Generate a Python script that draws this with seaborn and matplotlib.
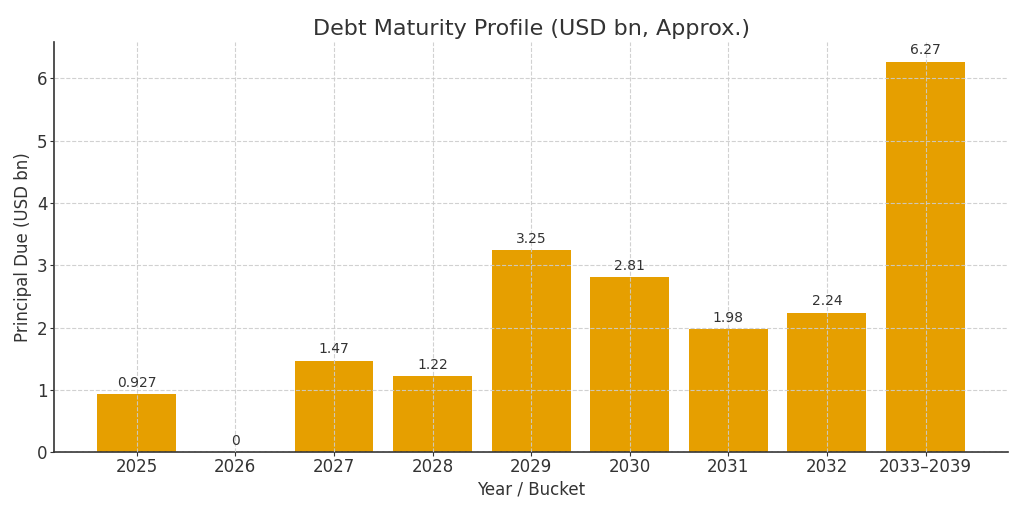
import matplotlib
matplotlib.use("Agg")
import matplotlib.pyplot as plt
import seaborn as sns
import pandas as pd

categories = ["2025", "2026", "2027", "2028", "2029", "2030", "2031", "2032", "2033–2039"]
values = [0.927, 0.0, 1.47, 1.22, 3.25, 2.81, 1.98, 2.24, 6.27]
labels = ["0.927", "0", "1.47", "1.22", "3.25", "2.81", "1.98", "2.24", "6.27"]

sns.set_style("white")
plt.rcParams['font.family'] = ['DejaVu Sans']
text_color = "#333333"

df = pd.DataFrame({"bucket": categories, "value": values})

fig = plt.figure(figsize=(10.24, 5.12), dpi=100)
ax = fig.add_axes([0.0527, 0.117, 0.932, 0.801])
sns.barplot(data=df, x="bucket", y="value", color="#E69F00", saturation=1,
            width=0.8, ax=ax, zorder=2, linewidth=0, edgecolor="#E69F00")

ax.set_axisbelow(False)
ax.grid(True, linestyle="--", color="#cccccc", linewidth=0.8, alpha=0.9, zorder=3)
for c in ax.containers:
    ax.bar_label(c, labels=labels, padding=3, fontsize=10, color=text_color)

ax.set_xlim(-0.84, 8.84)
ax.set_ylim(0, 6.585)
ax.set_title("Debt Maturity Profile (USD bn, Approx.)", fontsize=16, color=text_color, pad=5)
ax.set_xlabel("Year / Bucket", fontsize=12, color=text_color, labelpad=3)
ax.set_ylabel("Principal Due (USD bn)", fontsize=12, color=text_color, labelpad=4)
ax.tick_params(axis="both", labelsize=12, colors=text_color, length=3, pad=1.5,
               bottom=True, left=True)
sns.despine(ax=ax)
for s in ["left", "bottom"]:
    ax.spines[s].set_color(text_color)
    ax.spines[s].set_linewidth(1.2)

fig.savefig("out.png", dpi=100)
